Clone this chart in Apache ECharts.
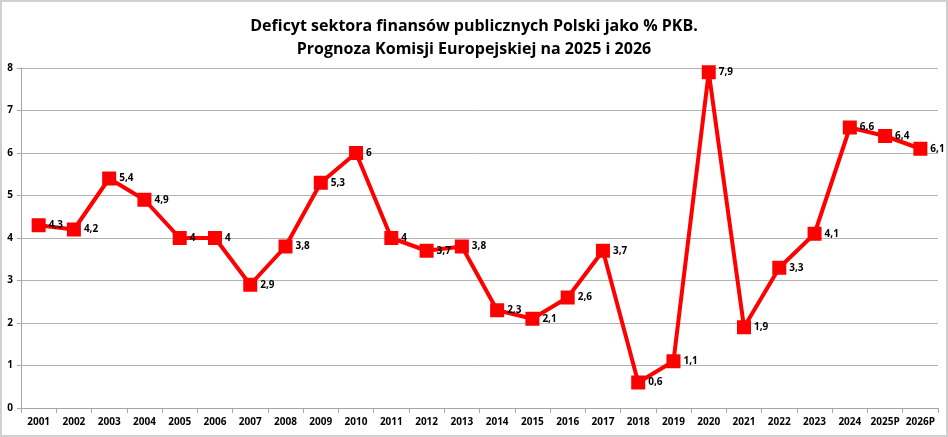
<!DOCTYPE html>
<html>
<head>
<meta charset="utf-8">
<script src="https://cdn.jsdelivr.net/npm/echarts@6/dist/echarts.min.js"></script>
<style>
  html, body { margin: 0; padding: 0; background: #fff; }
  #chart { width: 948px; height: 437px; box-sizing: border-box; border: 2px solid #d0d0d0; }
</style>
</head>
<body>
<div id="chart"></div>
<script>
// lata i deficyt (% PKB)
var years = ['2001', '2002', '2003', '2004', '2005', '2006', '2007', '2008', '2009', '2010',
  '2011', '2012', '2013', '2014', '2015', '2016', '2017', '2018', '2019', '2020',
  '2021', '2022', '2023', '2024', '2025P', '2026P'];
var deficit = [4.3, 4.2, 5.4, 4.9, 4, 4, 2.9, 3.8, 5.3, 6,
  4, 3.7, 3.8, 2.3, 2.1, 2.6, 3.7, 0.6, 1.1, 7.9,
  1.9, 3.3, 4.1, 6.6, 6.4, 6.1];
var titleLines = ['Deficyt sektora finansów publicznych Polski jako % PKB.',
  'Prognoza Komisji Europejskiej na 2025 i 2026'];

var myChart = echarts.init(document.getElementById('chart'));
var option = {
  animation: false,
  title: {
    text: titleLines.join('\n'),
    left: 'center',
    top: 8,
    textStyle: {
      fontFamily: 'Open Sans',
      fontWeight: 'bold',
      fontSize: 16,
      lineHeight: 23,
      color: '#000'
    }
  },
  grid: { left: 19, right: 8, top: 66, bottom: 27 },
  xAxis: {
    type: 'category',
    data: years,
    boundaryGap: true,
    axisLine: { lineStyle: { color: '#a6a6a6', width: 1 } },
    axisTick: { show: true, length: 5, lineStyle: { color: '#a6a6a6' } },
    axisLabel: {
      interval: 0,
      color: '#000',
      fontFamily: 'Open Sans',
      fontWeight: 'bold',
      fontSize: 10,
      margin: 9
    }
  },
  yAxis: {
    type: 'value',
    min: 0,
    max: 8,
    interval: 1,
    axisLine: { show: true, lineStyle: { color: '#a6a6a6' } },
    axisTick: { show: true, length: 4, lineStyle: { color: '#a6a6a6' } },
    splitLine: { lineStyle: { color: '#b3b3b3', width: 1 } },
    axisLabel: {
      color: '#000',
      fontFamily: 'Open Sans',
      fontWeight: 'bold',
      fontSize: 10,
      margin: 8
    }
  },
  series: [{
    type: 'line',
    data: deficit,
    symbol: 'rect',
    symbolSize: 14,
    lineStyle: { color: '#ff0000', width: 4 },
    itemStyle: { color: '#ff0000' },
    label: {
      show: true,
      position: 'right',
      distance: 3,
      color: '#000',
      fontFamily: 'Open Sans',
      fontWeight: 'bold',
      fontSize: 10,
      formatter: function(p) {
        return String(p.value).replace('.', ',');
      }
    }
  }]
};
myChart.setOption(option);
</script>
</body>
</html>
